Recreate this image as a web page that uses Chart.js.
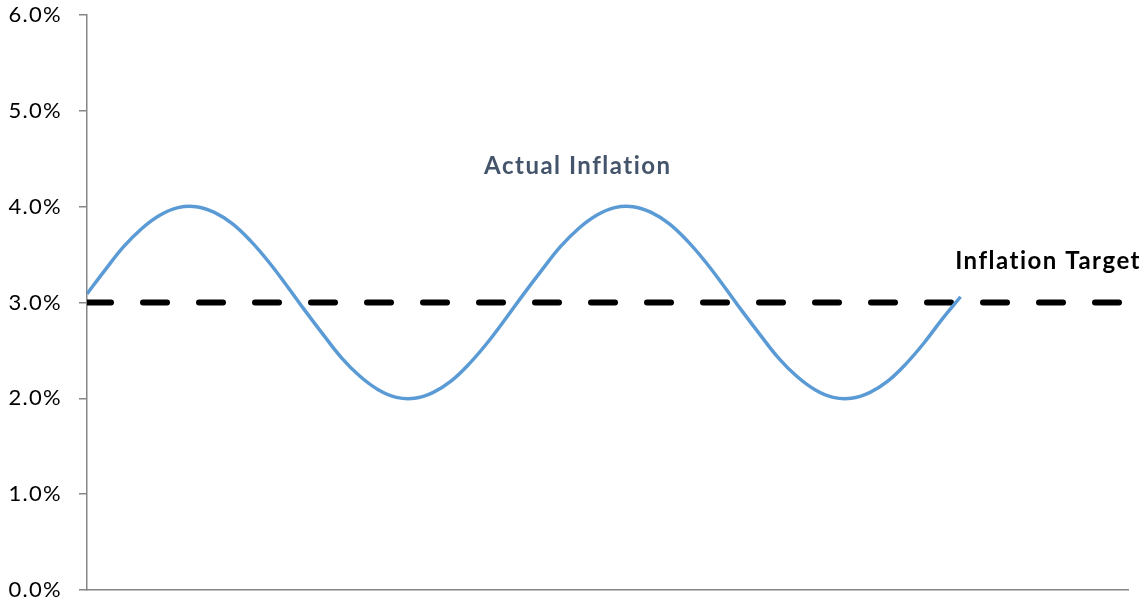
<!DOCTYPE html>
<html>
<head>
<meta charset="utf-8">
<script src="https://cdn.jsdelivr.net/npm/chart.js@4.4.1/dist/chart.umd.min.js"></script>
<style>
  html, body { margin: 0; padding: 0; background: #ffffff; }
  #wrap { position: relative; width: 1144px; height: 603px; }
</style>
</head>
<body>
<div id="wrap"><canvas id="chart"></canvas></div>
<script>
// Time index (months) of each observation
const periods = [
  0, 1, 2, 3, 4, 5, 6, 7, 8, 9, 10, 11, 12, 13, 14, 15, 16, 17, 18, 19, 20, 21, 22, 23,
  24, 25, 26, 27, 28, 29, 30, 31, 32, 33, 34, 35, 36, 37, 38, 39, 40, 41, 42, 43, 44, 45, 46, 47, 48
];
// Actual inflation, percent
const actualInflation = [
  3.09, 3.34, 3.58, 3.77, 3.91, 3.99, 4.00, 3.94, 3.82, 3.64, 3.42, 3.17,
  2.91, 2.66, 2.42, 2.23, 2.09, 2.01, 2.00, 2.06, 2.18, 2.36, 2.58, 2.83,
  3.09, 3.34, 3.58, 3.77, 3.91, 3.99, 4.00, 3.94, 3.82, 3.64, 3.42, 3.17,
  2.91, 2.66, 2.42, 2.23, 2.09, 2.01, 2.00, 2.06, 2.18, 2.36, 2.58, 2.83,
  3.06
];
// Inflation target, percent (flat across the whole horizon)
const targetPeriods = [0, 57.2];
const inflationTarget = [3.0, 3.0];
// Value axis
const yTicks = [0, 1, 2, 3, 4, 5, 6];
const xMax = 57.2;

// Series captions, anchored in data units
const captions = [
  { text: 'Actual Inflation', x: 26.97, y: 4.42, color: '#44546A', align: 'center' },
  { text: 'Inflation Target', x: null, y: 3.43, color: '#000000', align: 'right' }
];

const FONT = 'Lato, "Open Sans", sans-serif';

// Slightly wider letter spacing for all chart text
const spacingPlugin = {
  id: 'spacing',
  beforeLayout(chart) { chart.ctx.letterSpacing = '1.3px'; },
  beforeDraw(chart) { chart.ctx.letterSpacing = '1.3px'; }
};

const captionPlugin = {
  id: 'captions',
  afterDatasetsDraw(chart) {
    const { ctx, scales } = chart;
    ctx.save();
    ctx.letterSpacing = '1.5px';
    ctx.font = 'bold 24px ' + FONT;
    ctx.textBaseline = 'middle';
    captions.forEach(c => {
      ctx.fillStyle = c.color;
      ctx.textAlign = c.align;
      const px = c.x === null ? chart.width - 3 : scales.x.getPixelForValue(c.x);
      ctx.fillText(c.text, px, scales.y.getPixelForValue(c.y));
    });
    ctx.restore();
  }
};

new Chart(document.getElementById('chart'), {
  type: 'line',
  data: {
    datasets: [
      {
        label: 'Inflation Target',
        data: targetPeriods.map((p, i) => ({ x: p, y: inflationTarget[i] })),
        borderColor: '#000000',
        borderWidth: 6,
        borderDash: [24, 32],
        borderCapStyle: 'round',
        pointRadius: 0,
        order: 2
      },
      {
        label: 'Actual Inflation',
        data: periods.map((p, i) => ({ x: p, y: actualInflation[i] })),
        borderColor: '#5B9BD5',
        borderWidth: 3.5,
        tension: 0.4,
        pointRadius: 0,
        order: 1
      }
    ]
  },
  plugins: [spacingPlugin, captionPlugin],
  options: {
    responsive: true,
    maintainAspectRatio: false,
    animation: false,
    layout: { padding: { top: 15, right: 16, bottom: 13, left: 0 } },
    plugins: { legend: { display: false }, tooltip: { enabled: false } },
    scales: {
      x: {
        type: 'linear',
        min: 0,
        max: xMax,
        afterFit(scale) { scale.height = 0; scale.paddingLeft = 0; scale.paddingRight = 0; },
        ticks: { display: false },
        grid: { display: false },
        border: { display: true, color: '#868686', width: 1.5 }
      },
      y: {
        min: 0,
        max: 6,
        afterBuildTicks(scale) { scale.ticks = yTicks.map(v => ({ value: v })); },
        afterFit(scale) { scale.width = 87; scale.paddingTop = 0; scale.paddingBottom = 0; },
        ticks: {
          padding: 17,
          color: '#000000',
          font: { family: FONT, size: 22 },
          callback: v => v.toFixed(1) + '%'
        },
        grid: { drawOnChartArea: false, drawTicks: true, tickLength: 8, color: '#868686', lineWidth: 1.5 },
        border: { display: true, color: '#868686', width: 1.5 }
      }
    }
  }
});
</script>
</body>
</html>
